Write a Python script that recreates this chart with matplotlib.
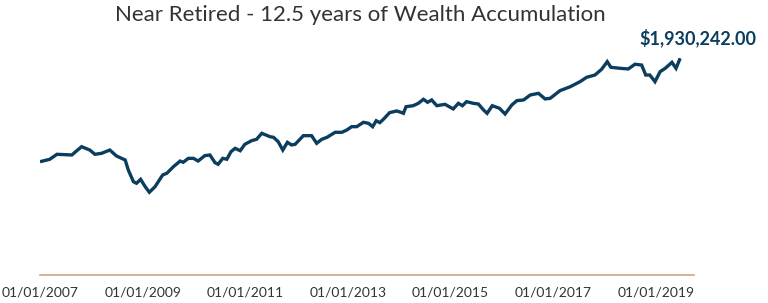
import matplotlib
matplotlib.use("Agg")
import matplotlib.pyplot as plt

# portfolio value over time (decimal years)
years = [2007.00, 2007.19, 2007.33, 2007.62, 2007.81, 2007.97, 2008.07, 2008.20, 2008.36, 2008.49,
         2008.66, 2008.72, 2008.82, 2008.88, 2008.96, 2009.05, 2009.13, 2009.24, 2009.39, 2009.47,
         2009.60, 2009.73, 2009.79, 2009.89, 2009.99, 2010.08, 2010.21, 2010.31, 2010.41, 2010.47,
         2010.56, 2010.64, 2010.72, 2010.80, 2010.90, 2010.99, 2011.12, 2011.22, 2011.32, 2011.48,
         2011.55, 2011.64, 2011.73, 2011.82, 2011.90, 2011.97, 2012.13, 2012.29, 2012.39, 2012.49,
         2012.59, 2012.75, 2012.88, 2012.98, 2013.07, 2013.17, 2013.30, 2013.40, 2013.48, 2013.55,
         2013.62, 2013.69, 2013.81, 2013.95, 2014.03, 2014.08, 2014.13, 2014.27, 2014.37, 2014.47,
         2014.55, 2014.63, 2014.73, 2014.89, 2015.05, 2015.15, 2015.23, 2015.31, 2015.44, 2015.54,
         2015.64, 2015.71, 2015.81, 2015.95, 2016.06, 2016.19, 2016.29, 2016.42, 2016.55, 2016.71,
         2016.84, 2016.94, 2017.13, 2017.33, 2017.52, 2017.65, 2017.81, 2017.94, 2018.05, 2018.12,
         2018.30, 2018.46, 2018.59, 2018.72, 2018.80, 2018.88, 2018.98, 2019.08, 2019.18, 2019.31,
         2019.39, 2019.47]
values = [1009000, 1030500, 1075000, 1069000, 1143000, 1113000, 1075000, 1084000, 1113000, 1060000,
          1024000, 935000, 831000, 817000, 852000, 786000, 737000, 786000, 891000, 906000,
          965000, 1015000, 1004000, 1039000, 1039000, 1015000, 1063000, 1069000, 1000000, 986000,
          1039000, 1031000, 1098000, 1128000, 1107000, 1164000, 1196000, 1209000, 1262000, 1232000,
          1226000, 1187000, 1113000, 1182000, 1158000, 1164000, 1241000, 1241000, 1173000, 1209000,
          1226000, 1271000, 1271000, 1292000, 1321000, 1321000, 1360000, 1351000, 1321000, 1374000,
          1357000, 1387000, 1446000, 1461000, 1449000, 1440000, 1499000, 1508000, 1529000, 1565000,
          1538000, 1559000, 1508000, 1520000, 1479000, 1529000, 1508000, 1544000, 1529000, 1523000,
          1470000, 1440000, 1508000, 1485000, 1434000, 1514000, 1553000, 1559000, 1603000, 1618000,
          1568000, 1574000, 1642000, 1677000, 1722000, 1761000, 1781000, 1832000, 1900000, 1850000,
          1841000, 1835000, 1877000, 1870000, 1781000, 1781000, 1722000, 1811000, 1841000, 1894000,
          1841000, 1930242]
tick_years = [2007, 2009, 2011, 2013, 2015, 2017, 2019]
tick_labels = ["01/01/2007", "01/01/2009", "01/01/2011", "01/01/2013",
               "01/01/2015", "01/01/2017", "01/01/2019"]
title = "Near Retired - 12.5 years of Wealth Accumulation"

navy = "#0b3d5e"
plt.rcParams['font.family'] = ['Lato', 'DejaVu Sans']

fig = plt.figure(figsize=(7.68, 3.03), dpi=100)
ax = fig.add_axes([40 / 768, 1 - 275 / 303, 654 / 768, 235 / 303])
ax.plot(years, values, color=navy, lw=2.4, solid_joinstyle='miter', solid_capstyle='butt')
ax.set_xlim(2007, 2019.74)
ax.set_ylim(0, 2093000)

for s in ['top', 'right', 'left']:
    ax.spines[s].set_visible(False)
ax.spines['bottom'].set_color('#c9a888')
ax.spines['bottom'].set_linewidth(1.2)
ax.set_yticks([])
ax.set_xticks(tick_years)
ax.set_xticklabels(tick_labels, fontsize=10, color='#333333')
ax.tick_params(axis='x', length=0, pad=8)

fig.text(0.469, 0.952, title, ha='center', va='center', fontsize=16, color='#333333')
ax.annotate("${:,.2f}".format(values[-1]), xy=(years[-1], values[-1]), xytext=(13, 15),
            textcoords='offset points', ha='center', va='center',
            fontsize=13, fontweight='bold', color=navy)

fig.savefig("out.png", dpi=100)
